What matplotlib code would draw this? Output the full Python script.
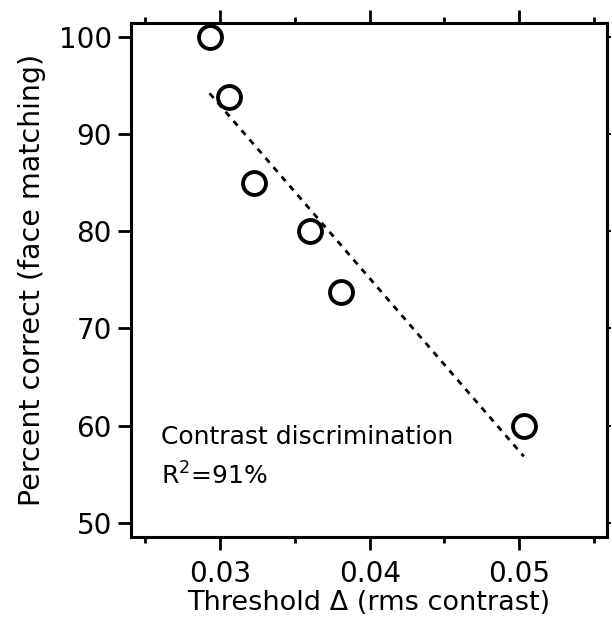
import matplotlib
matplotlib.use("Agg")
import matplotlib.pyplot as plt
import numpy as np

# threshold (rms contrast) vs percent correct (face matching)
threshold = np.array([0.0293, 0.0306, 0.0323, 0.0360, 0.0381, 0.0503])
pct_correct = np.array([100.0, 93.8, 85.0, 80.0, 73.7, 60.0])

xticks = [0.03, 0.04, 0.05]
xminor = [0.025, 0.035, 0.045, 0.055]
yticks = [50, 60, 70, 80, 90, 100]

plt.rcParams['font.family'] = ['DejaVu Sans']

fig = plt.figure(figsize=(6.12, 6.28), dpi=100)
ax = fig.add_axes([0.2136, 0.1444, 0.7787, 0.8185])

# regression line over data range
slope, icpt = np.polyfit(threshold, pct_correct, 1)
xs = np.array([threshold.min(), threshold.max()])
ax.plot(xs, slope * xs + icpt, color='black', lw=2, linestyle=(0, (2.2, 2.2)), zorder=2)

ax.plot(threshold, pct_correct, 'o', ms=16.5, mfc='white', mec='black', mew=2.8, zorder=3,
        clip_on=False)

ax.set_xlim(0.02403, 0.05588)
ax.set_ylim(48.5, 101.38)

ax.set_xticks(xticks)
ax.set_xticklabels(['0.03', '0.04', '0.05'])
ax.set_xticks(xminor, minor=True)
ax.set_yticks(yticks)

for s in ax.spines.values():
    s.set_linewidth(2.2)

ax.tick_params(axis='x', which='major', direction='out', length=9.5, width=2,
               top=True, bottom=True, labelsize=20, pad=7)
ax.tick_params(axis='x', which='minor', direction='out', length=4.5, width=2,
               top=True, bottom=True)
ax.tick_params(axis='y', which='major', direction='out', length=9.5, width=2,
               left=True, right=False, labelsize=20, pad=4)

sec = ax.secondary_yaxis('right')
sec.set_yticks(yticks)
sec.tick_params(direction='out', length=3, width=1.5, labelright=False)
sec.spines['right'].set_linewidth(2.2)

ax.set_xlabel('Threshold \u0394 (rms contrast)', fontsize=19.5, labelpad=1)
ax.set_ylabel('Percent correct (face matching)', fontsize=20.5, labelpad=9)

ax.text(0.063, 0.1815, 'Contrast discrimination', transform=ax.transAxes,
        fontsize=18, va='baseline', ha='left')
ax.text(0.063, 0.1018, r'R$^{2}$=91%', transform=ax.transAxes,
        fontsize=18, va='baseline', ha='left')

fig.savefig('out.png', dpi=100)
